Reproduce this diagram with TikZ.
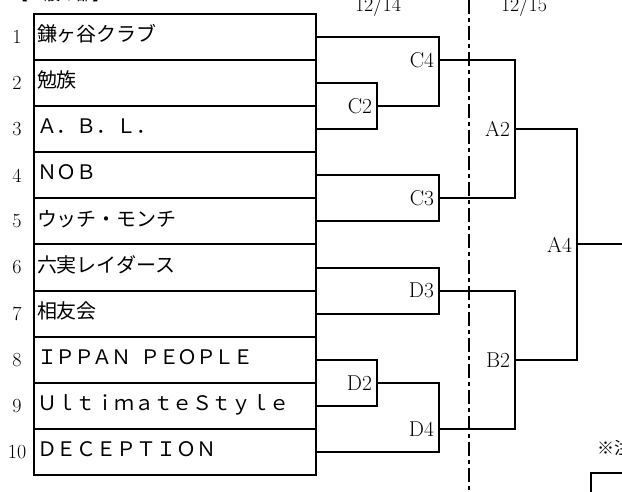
\documentclass[tikz,border=0pt]{standalone}
\usepackage{fontspec}
\newfontfamily\jp{Noto Sans CJK JP}
\usetikzlibrary{positioning}

\tikzset{
  team/.style={draw, rectangle, line width=2pt, outer sep=0pt,
    minimum width=282pt, minimum height=46.1pt, inner xsep=3pt, inner ysep=0pt,
    text width=276pt, align=left, text height=16pt, text depth=6.8pt,
    font=\jp\fontsize{20}{24}\selectfont},
  num/.style={inner sep=0pt, font=\fontsize{20}{24}\selectfont},
  game/.style={anchor=east, inner ysep=0pt, inner xsep=5pt, outer sep=0pt,
    font=\fontsize{21.5}{26}\selectfont},
  day/.style={anchor=base, inner sep=0pt, font=\fontsize{20}{24}\selectfont},
  bline/.style={line width=2pt},
  sepline/.style={line width=2pt, dash pattern=on 14pt off 4pt on 4pt off 4pt},
}

\begin{document}
\begin{tikzpicture}[x=1pt, y=-1pt]
   \useasboundingbox (0,0) rectangle (622,492);
   % Title and dates
   \node[anchor=base west, inner sep=0pt, font=\jp\fontsize{16}{18}\selectfont] (title) at (12,0.5) {【一般の部】};
   \node[day] (day1) at (378,11.5) {12/14};
   \node[day] (day2) at (524,11.5) {12/15};
   % Teams
   \node[team] (t1) at (175,37.05) {鎌ヶ谷クラブ};
   \node[team, below=0pt of t1] (t2) {勉族};
   \node[team, below=0pt of t2] (t3) {Ａ．Ｂ．Ｌ．};
   \node[team, below=0pt of t3] (t4) {ＮＯＢ};
   \node[team, below=0pt of t4] (t5) {ウッチ・モンチ};
   \node[team, below=0pt of t5] (t6) {六実レイダース};
   \node[team, below=0pt of t6] (t7) {相友会};
   \node[team, below=0pt of t7] (t8) {\addfontfeatures{LetterSpace=-7}ＩＰＰＡＮ\hspace{9pt}ＰＥＯＰＬＥ};
   \node[team, below=0pt of t8] (t9) {\addfontfeatures{LetterSpace=-3}ＵｌｔｉｍａｔｅＳｔｙｌｅ};
   \node[team, below=0pt of t9] (t10) {ＤＥＣＥＰＴＩＯＮ};
   % Numbers
   \coordinate (numcol) at (17,0);
   \node[num] (n1) at (numcol |- t1) {1};
   \node[num] (n2) at (numcol |- t2) {2};
   \node[num] (n3) at (numcol |- t3) {3};
   \node[num] (n4) at (numcol |- t4) {4};
   \node[num] (n5) at (numcol |- t5) {5};
   \node[num] (n6) at (numcol |- t6) {6};
   \node[num] (n7) at (numcol |- t7) {7};
   \node[num] (n8) at (numcol |- t8) {8};
   \node[num] (n9) at (numcol |- t9) {9};
   \node[num] (n10) at (numcol |- t10) {10};
   % Games
   \node[game] (C2) at (377,106.2) {C2};
   \node[game] (C4) at (439,60.1) {C4};
   \node[game] (C3) at (439,198.4) {C3};
   \node[game] (A2) at (515,129.25) {A2};
   \node[game] (D3) at (439,290.6) {D3};
   \node[game] (D2) at (377,382.8) {D2};
   \node[game] (D4) at (439,428.9) {D4};
   \node[game] (B2) at (515,359.75) {B2};
   \node[game] (A4) at (577,244.5) {A4};
   \coordinate (final) at (630,244.5);
   % Bracket
   \draw[bline] (t2.east) -| (C2.east) |- (t3.east);
   \draw[bline] (t1.east) -| (C4.east) |- (C2.east);
   \draw[bline] (t4.east) -| (C3.east) |- (t5.east);
   \draw[bline] (C4.east) -| (A2.east) |- (C3.east);
   \draw[bline] (t6.east) -| (D3.east) |- (t7.east);
   \draw[bline] (t8.east) -| (D2.east) |- (t9.east);
   \draw[bline] (D2.east) -| (D4.east) |- (t10.east);
   \draw[bline] (D3.east) -| (B2.east) |- (D4.east);
   \draw[bline] (A2.east) -| (A4.east) |- (B2.east);
   \draw[bline] (A4.east) -- (final);
   % Day separator
   \coordinate (sepT) at (469,0);
   \coordinate (sepB) at (469,492);
   \draw[sepline] (sepT) -- (sepB);
   % Note
   \node[anchor=west, inner sep=0pt, font=\jp\fontsize{17}{20}\selectfont] (note) at (597,447.5) {※注意};
   \node[draw, line width=2pt, outer sep=0pt, anchor=north west, minimum width=60pt, minimum height=40pt] (notebox) at (591,473) {};
\end{tikzpicture}
\end{document}
